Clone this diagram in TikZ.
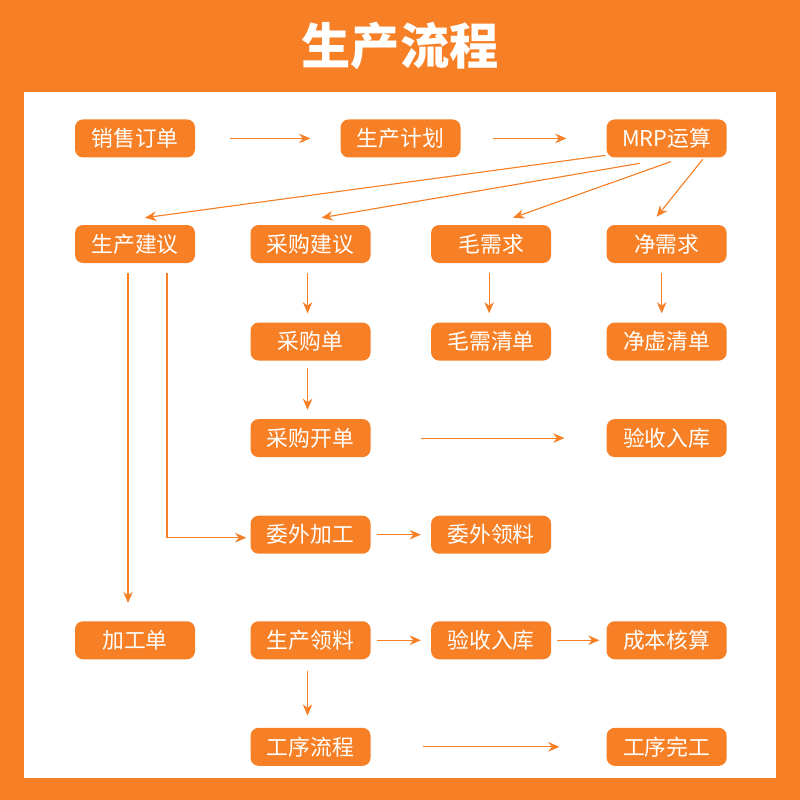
\documentclass[tikz,border=0pt]{standalone}
\usepackage{fontspec}
\setmainfont{Noto Sans CJK SC}
\usetikzlibrary{positioning,arrows.meta}
\definecolor{orng}{RGB}{247,128,38}

\begin{document}
\begin{tikzpicture}[node distance=14.5mm and 13.75mm,
  box/.style={fill=orng,text=white,rounded corners=2mm,minimum width=30mm,minimum height=9.5mm,inner sep=0pt,font=\fontsize{15.5}{18}\selectfont},
  arr/.style={-{Stealth[length=2.8mm,width=2.4mm]},draw=orng,line width=0.8pt}]
  \fill[orng] (0,0) rectangle (20,-20);
  \fill[white] (0.6,-2.3) rectangle (19.4,-19.45);
  \useasboundingbox (0,0) rectangle (20,-20);
  \node[text=white,font=\fontsize{35}{40}\selectfont\bfseries] (title) at (10,-1.16) {生产流程};
  \node[box] (scjy) at (3.375,-6.1) {生产建议};
  \node[box,right=of scjy] (cgjy) {采购建议};
  \node[box,right=15mm of cgjy] (mxq) {毛需求};
  \node[box,right=of mxq] (jxq) {净需求};
  \node[box,above=16.75mm of scjy] (xsdd) {销售订单};
  \node[box,right=36.25mm of xsdd] (scjh) {生产计划};
  \node[box,above=16.75mm of jxq] (mrp) {MRP运算};
  \node[box,below=14.75mm of cgjy] (cgd) {采购单};
  \node[box,below=14.75mm of mxq] (mxqd) {毛需清单};
  \node[box,below=14.75mm of jxq] (jxqd) {净虚清单};
  \node[box,below=of cgd] (cgkd) {采购开单};
  \node[box,below=of jxqd] (ysrk) {验收入库};
  \node[box,below=of cgkd] (wwjg) {委外加工};
  \node[box,right=15mm of wwjg] (wwll) {委外领料};
  \node[box,below=16.75mm of wwjg] (sctl) {生产领料};
  \node[box,left=of sctl] (jgd) {加工单};
  \node[box,right=15mm of sctl] (ysrk2) {验收入库};
  \node[box,right=of ysrk2] (cbhs) {成本核算};
  \node[box,below=17mm of sctl] (gxlc) {工序流程};
  \node[box,below=17mm of cbhs] (gxwg) {工序完工};
  % top row
  \draw[arr,shorten <=8.75mm,shorten >=7.5mm] (xsdd) -- (scjh);
  \draw[arr,shorten <=8mm,shorten >=10mm] (scjh) -- (mrp);
  % MRP results
  \draw[arr] ([xshift=-0.25mm,yshift=0.6mm]mrp.south west) -- ([xshift=2.5mm,yshift=1.75mm]scjy.north);
  \draw[arr] ([xshift=-6.75mm,yshift=-1.4mm]mrp.south) -- ([xshift=2.75mm,yshift=1.75mm]cgjy.north);
  \draw[arr] ([xshift=1mm,yshift=-1mm]mrp.south) -- ([xshift=5.5mm,yshift=1.75mm]mxq.north);
  \draw[arr] ([xshift=9mm,yshift=-0.4mm]mrp.south) -- ([xshift=-2.5mm,yshift=2mm]jxq.north);
  % columns
  \draw[arr] ([xshift=-1.75mm,yshift=-2.5mm]scjy.south) -- ([xshift=-1.75mm,yshift=4.5mm]jgd.north);
  \draw[arr] ([xshift=8mm,yshift=-2.5mm]scjy.south) |- ([xshift=-1mm,yshift=-0.75mm]wwjg.west);
  \draw[arr,shorten <=2.5mm,shorten >=2.25mm] ([xshift=-0.75mm]cgjy.south) -- ([xshift=-0.75mm]cgd.north);
  \draw[arr,shorten <=2.5mm,shorten >=2.25mm] ([xshift=-0.5mm]mxq.south) -- ([xshift=-0.5mm]mxqd.north);
  \draw[arr,shorten <=2.5mm,shorten >=2.25mm] ([xshift=-1.25mm]jxq.south) -- ([xshift=-1.25mm]jxqd.north);
  \draw[arr,shorten <=1.75mm,shorten >=2.25mm] ([xshift=-0.75mm]cgd.south) -- ([xshift=-0.75mm]cgkd.north);
  \draw[arr,shorten <=12.5mm,shorten >=10.5mm] (cgkd) -- (ysrk);
  \draw[arr,shorten <=1.5mm,shorten >=2.5mm] (wwjg) -- (wwll);
  \draw[arr,shorten <=1.5mm,shorten >=2.5mm] (sctl) -- (ysrk2);
  \draw[arr,shorten <=1.5mm,shorten >=1.75mm] (ysrk2) -- (cbhs);
  \draw[arr,shorten <=2.75mm,shorten >=3mm] ([xshift=-0.75mm]sctl.south) -- ([xshift=-0.75mm]gxlc.north);
  \draw[arr,shorten <=13mm,shorten >=11.75mm] (gxlc) -- (gxwg);
\end{tikzpicture}
\end{document}
